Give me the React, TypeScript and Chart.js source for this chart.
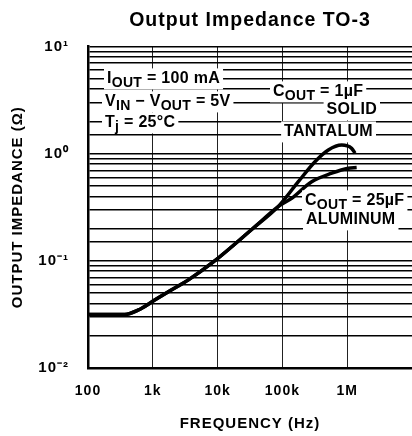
import React, { useEffect, useRef } from "react";
import { Chart, registerables } from "chart.js";

Chart.register(...registerables);

// Frequency (Hz) and output impedance (Ohm)
const tantalumFreq = [100, 370, 590, 1070, 1900, 3500, 8500, 35000, 86000, 176000, 318000, 511000, 822000, 1170000, 1320000];
const tantalumZ = [0.0316, 0.0316, 0.0346, 0.043, 0.053, 0.066, 0.097, 0.2, 0.32, 0.547, 0.84, 1.08, 1.2, 1.12, 1.01];
const aluminumFreq = [100, 370, 590, 1070, 1900, 3500, 8500, 35000, 86000, 139000, 283000, 577000, 1040000, 1400000];
const aluminumZ = [0.0316, 0.0316, 0.0346, 0.043, 0.053, 0.066, 0.097, 0.2, 0.32, 0.383, 0.547, 0.656, 0.73, 0.74];

const xTickValues = [100, 1000, 10000, 100000, 1000000];
const xTickLabels = ["100", "1k", "10k", "100k", "1M"];
const yTickValues = [0.01, 0.1, 1, 10];
const yTickLabels = ["10\u207B\u00B2", "10\u207B\u00B9", "10\u2070", "10\u00B9"];

const FONT = "'Liberation Sans', Arial, Helvetica, sans-serif";

type Part = { t: string; sub?: boolean };

function drawRich(ctx: CanvasRenderingContext2D, parts: Part[], x: number, y: number, align: "left" | "right") {
  const main = `bold 16px ${FONT}`;
  const sub = `bold 14px ${FONT}`;
  let total = 0;
  const widths = parts.map((p) => {
    ctx.font = p.sub ? sub : main;
    const w = ctx.measureText(p.t).width;
    total += w;
    return w;
  });
  let cx = align === "left" ? x : x - total;
  ctx.fillStyle = "#fff";
  ctx.fillRect(cx - 3, y - 15, total + 6, 21);
  ctx.fillStyle = "#000";
  ctx.textAlign = "left";
  ctx.textBaseline = "alphabetic";
  parts.forEach((p, i) => {
    ctx.font = p.sub ? sub : main;
    ctx.fillText(p.t, cx, p.sub ? y + 4 : y);
    cx += widths[i];
  });
}

const annotationPlugin = {
  id: "annotations",
  beforeDraw(chart: any) {
    chart.ctx.letterSpacing = "1px";
  },
  afterDatasetsDraw(chart: any) {
    const ctx = chart.ctx as CanvasRenderingContext2D;
    const { left, top } = chart.chartArea;
    ctx.save();
    (ctx as any).letterSpacing = "0.3px";
    drawRich(ctx, [{ t: "I" }, { t: "OUT", sub: true }, { t: " = 100 mA" }], left + 19, top + 37, "left");
    drawRich(ctx, [{ t: "V" }, { t: "IN", sub: true }, { t: " \u2212 V" }, { t: "OUT", sub: true }, { t: " = 5V" }], left + 17, top + 60, "left");
    drawRich(ctx, [{ t: "T" }, { t: "j", sub: true }, { t: " = 25\u00B0C" }], left + 17, top + 81, "left");
    drawRich(ctx, [{ t: "C" }, { t: "OUT", sub: true }, { t: " = 1\u00B5F" }], left + 185, top + 50, "left");
    drawRich(ctx, [{ t: "SOLID" }], left + 289, top + 68, "right");
    drawRich(ctx, [{ t: "TANTALUM" }], left + 285, top + 90, "right");
    drawRich(ctx, [{ t: "C" }, { t: "OUT", sub: true }, { t: " = 25\u00B5F" }], left + 217, top + 159, "left");
    drawRich(ctx, [{ t: "ALUMINUM" }], left + 218, top + 178, "left");
    ctx.restore();
  },
};

export default function App() {
  const ref = useRef<HTMLCanvasElement | null>(null);
  useEffect(() => {
    if (!ref.current) return;
    const lineStyle = {
      borderColor: "#000",
      borderWidth: 3.5,
      pointRadius: 0,
      cubicInterpolationMode: "monotone",
      fill: false,
    };
    const chart = new Chart(ref.current, {
      type: "line",
      data: {
        datasets: [
          { ...lineStyle, data: tantalumFreq.map((f, i) => ({ x: f, y: tantalumZ[i] })) },
          { ...lineStyle, data: aluminumFreq.map((f, i) => ({ x: f, y: aluminumZ[i] })) },
        ],
      },
      options: {
        animation: false,
        responsive: false,
        layout: { padding: 0 },
        plugins: {
          legend: { display: false },
          tooltip: { enabled: false },
          title: {
            display: true,
            fullSize: false,
            text: "Output Impedance TO-3",
            color: "#000",
            font: { family: FONT, size: 19.5, weight: "bold" },
            padding: { top: 9, bottom: 14 },
          },
        },
        scales: {
          x: {
            type: "logarithmic",
            min: 100,
            max: 10000000,
            afterBuildTicks: (s: any) => {
              s.ticks = [...xTickValues, 10000000].map((v) => ({ value: v }));
            },
            afterFit: (s: any) => {
              s.height = 68;
            },
            ticks: {
              autoSkip: false,
              maxRotation: 0,
              padding: 0,
              color: "#000",
              font: { family: FONT, size: 14, weight: "bold" },
              callback: (v: any) => {
                const i = xTickValues.indexOf(Number(v));
                return i >= 0 ? xTickLabels[i] : "";
              },
            },
            grid: { color: "#222", lineWidth: 1, drawTicks: true, tickLength: 15, tickColor: "rgba(0,0,0,0)" },
            border: { display: true, color: "#000", width: 2.5 },
            title: {
              display: true,
              text: "FREQUENCY (Hz)",
              color: "#000",
              font: { family: FONT, size: 15, weight: "bold" },
              padding: { top: 0, bottom: 3 },
            },
          },
          y: {
            type: "logarithmic",
            min: 0.01,
            max: 10,
            afterFit: (s: any) => {
              s.width = 88;
            },
            ticks: {
              autoSkip: false,
              padding: 19,
              color: "#000",
              font: { family: FONT, size: 15, weight: "bold" },
              callback: (v: any) => {
                const n = Number(v);
                const i = yTickValues.findIndex((t) => Math.abs(t - n) / t < 1e-6);
                return i >= 0 ? yTickLabels[i] : "";
              },
            },
            grid: { color: "#000", lineWidth: 1.4, drawTicks: false },
            border: { display: true, color: "#000", width: 2.5 },
            title: {
              display: true,
              text: "OUTPUT IMPEDANCE (\u03A9)",
              color: "#000",
              font: { family: FONT, size: 15, weight: "bold" },
              padding: { top: 9, bottom: 0 },
            },
          },
        },
      },
      plugins: [annotationPlugin],
    } as any);
    return () => chart.destroy();
  }, []);
  return (
    <div style={{ position: "absolute", left: 0, top: 0, width: 412, height: 436 }}>
      <canvas ref={ref} width={412} height={436} />
    </div>
  );
}
